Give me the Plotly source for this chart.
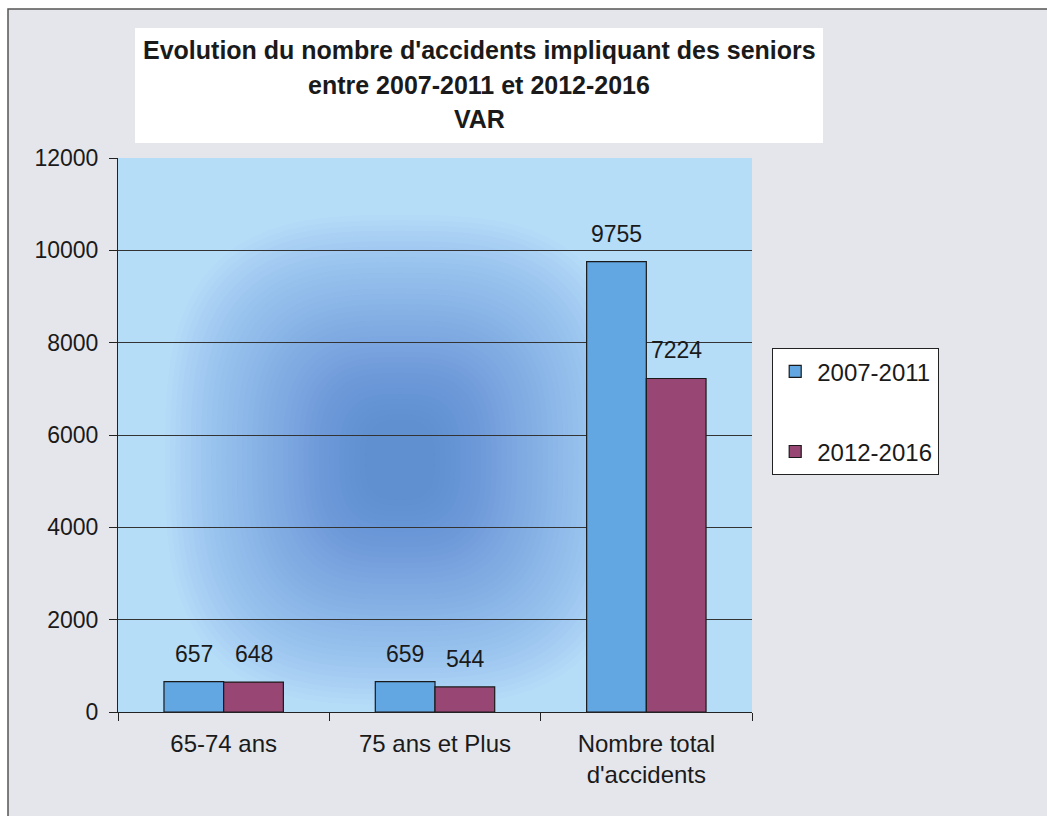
import math
import plotly.graph_objects as go

categories = ["65-74 ans", "75 ans et Plus", "Nombre total d'accidents"]
tick_labels = ["65-74 ans", "75 ans et Plus", "Nombre total<br>d'accidents"]
series_names = ["2007-2011", "2012-2016"]
values_2007_2011 = [657, 659, 9755]
values_2012_2016 = [648, 544, 7224]
y_ticks = [0, 2000, 4000, 6000, 8000, 10000, 12000]
title_lines = ["Evolution du nombre d'accidents impliquant des seniors",
               "entre 2007-2011 et 2012-2016", "VAR"]

W, H = 1047, 816
L, R, T, B = 118, 752, 158, 712  # plot area in pixels

def px(x):
    return (x - L) / (R - L)

def py(y):
    return (B - y) / (B - T)

def clamp(v):
    return min(1.0, max(0.0, v))

def superellipse_path(cx, cy, hw, hh, n=3.0, k=72):
    pts = []
    for j in range(k):
        t = 2 * math.pi * j / k
        c, s = math.cos(t), math.sin(t)
        x = cx + hw * math.copysign(abs(c) ** (2 / n), c)
        y = cy + hh * math.copysign(abs(s) ** (2 / n), s)
        pts.append((clamp(px(x)), clamp(py(y))))
    return "M " + " L ".join("%.4f,%.4f" % p for p in pts) + " Z"

FONT = "Liberation Sans, Arial, sans-serif"
colors = ["#62a7e2", "#984674"]

fig = go.Figure()
for name, vals, col in zip(series_names, [values_2007_2011, values_2012_2016], colors):
    fig.add_trace(go.Bar(
        x=categories, y=vals, name=name, marker_color=col,
        marker_line_color="#1a1a1a", marker_line_width=1.2,
        legendgroup=name,
    ))

shapes = []
# page background with border
shapes.append(dict(type="rect", xref="paper", yref="paper",
                   x0=px(8), x1=px(W + 20), y0=py(H + 20), y1=py(9),
                   fillcolor="#e5e6eb", line=dict(color="#555555", width=1.5), layer="below"))
# plot area base colour
shapes.append(dict(type="rect", xref="paper", yref="paper", x0=0, x1=1, y0=0, y1=1,
                   fillcolor="#b6ddf8", line=dict(width=0), layer="below"))
# soft dark-blue blob (gradient approximation)
N = 40
cx, cy = 400, 460
for i in range(N):
    f = i / (N - 1)
    hw = 235 - 200 * f
    hh = 245 - 205 * f
    shapes.append(dict(type="path", xref="paper", yref="paper",
                       path=superellipse_path(cx, cy, hw, hh),
                       fillcolor="#2f66c4", opacity=0.02, line=dict(width=0), layer="below"))
# title box
shapes.append(dict(type="rect", xref="paper", yref="paper",
                   x0=px(135), x1=px(823), y0=py(143), y1=py(28),
                   fillcolor="white", line=dict(width=0), layer="below"))

annotations = []
for i, (line, ypix) in enumerate(zip(title_lines, [50, 85, 119])):
    annotations.append(dict(xref="paper", yref="paper", x=px(479), y=py(ypix),
                            text="<b>%s</b>" % line, showarrow=False,
                            xanchor="center", yanchor="middle",
                            font=dict(family=FONT, size=25, color="#1a1a1a")))
for vals, shift in [(values_2007_2011, -30), (values_2012_2016, 30)]:
    for c, v in zip(categories, vals):
        annotations.append(dict(x=c, y=v, xref="x", yref="y", text=str(v), showarrow=False,
                                xshift=shift, yshift=28, yanchor="middle",
                                font=dict(family=FONT, size=23, color="#1a1a1a")))

fig.update_layout(
    width=W, height=H,
    margin=dict(l=L, r=W - R, t=T, b=H - B, pad=0),
    paper_bgcolor="white", plot_bgcolor="rgba(0,0,0,0)",
    barmode="group", bargap=0.435, bargroupgap=0,
    shapes=shapes, annotations=annotations,
    font=dict(family=FONT, size=23, color="#1a1a1a"),
    legend=dict(x=px(772), y=py(348), xanchor="left", yanchor="top",
                bgcolor="white", bordercolor="#222222", borderwidth=1.2,
                font=dict(family=FONT, size=24, color="#1a1a1a"),
                tracegroupgap=46, itemwidth=34, entrywidth=170),
    showlegend=True,
)
fig.update_xaxes(type="category", categoryarray=categories, tickvals=categories,
                 ticktext=tick_labels, showline=True, linecolor="#222222", linewidth=1,
                 ticks="outside", tickson="boundaries", ticklen=8, tickcolor="#222222",
                 showgrid=False, tickfont=dict(family=FONT, size=24, color="#1a1a1a"),
                 ticklabelstandoff=10)
fig.update_yaxes(range=[0, 12000], tickvals=y_ticks, tickformat="d", showline=True,
                 linecolor="#222222", linewidth=1, ticks="outside", ticklen=8,
                 tickcolor="#222222", showgrid=True, gridcolor="#333333", gridwidth=1,
                 zeroline=False, tickfont=dict(family=FONT, size=23, color="#1a1a1a"),
                 ticklabelstandoff=6)

fig.write_html("out.html", config={"displayModeBar": False},
               post_script="document.body.style.margin='0';document.body.style.overflow='hidden';")
